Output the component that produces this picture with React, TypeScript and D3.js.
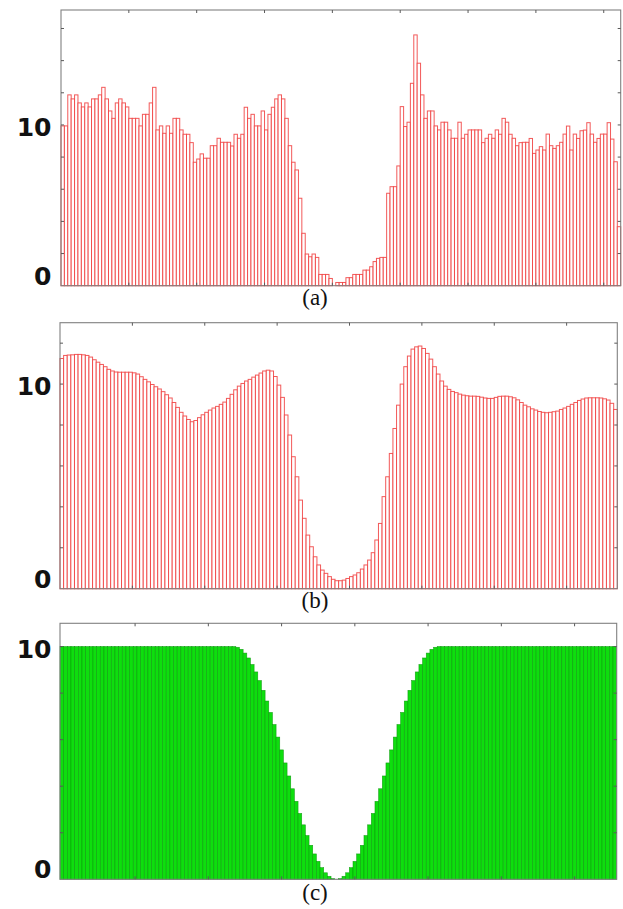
import React from "react";
import * as d3 from "d3";

// ---------- data ----------
const seriesA: number[] = [
  9.94, 9.94, 11.87, 11.62, 11.87, 11.37, 11.12, 11.37, 11.12, 11.62,
  11.62, 11.87, 12.34, 11.62, 10.87, 10.41, 11.37, 11.62, 11.37, 11.12,
  10.41, 10.41, 10.41, 9.94, 10.66, 10.66, 11.37, 12.34, 9.69, 9.94,
  9.48, 9.94, 9.48, 10.41, 10.41, 9.69, 9.42, 9.42, 8.9, 7.68,
  7.88, 8.2, 7.93, 7.93, 8.71, 8.71, 9.17, 8.92, 8.92, 8.92,
  8.69, 9.42, 9.17, 9.42, 11.1, 10.41, 10.66, 9.94, 9.94, 10.87,
  9.69, 10.66, 11.1, 11.62, 11.87, 11.62, 10.41, 8.71, 7.68, 7.2,
  5.44, 3.26,
  1.97, 1.8, 1.97, 1.76, 0.7, 0.7, 0.7, 0.45, 0, 0.2,
  0.2, 0.2, 0.5, 0.5, 0.7, 0.7, 0.7, 0.97, 0.97, 1.18,
  1.5, 1.7, 1.76, 1.76,
  5.75, 6.16, 6.16, 7.45, 11.14, 9.9, 10.17, 12.59, 15.6, 13.84,
  11.87, 10.41, 10.87, 10.87, 9.94, 9.69, 10.17, 10.17, 9.69, 9.17,
  9.17, 10.17, 9.17, 9.42, 9.69, 9.69, 9.69, 9.69, 8.9, 9.17,
  9.42, 9.17, 9.69, 9.42, 10.41, 10.17, 9.42, 9.17, 8.71, 8.9,
  8.92, 8.92, 9.16, 8.23, 8.44, 8.65, 8.44, 9.43, 8.71, 8.54,
  8.71, 8.92, 9.43, 9.93, 8.44, 9.43, 9.16, 9.64, 9.68, 10.14,
  9.43, 8.92, 9.16, 9.43, 9.43, 10.14, 9.12, 7.71, 3.67,
];

const seriesB: number[] = [
  11.25, 11.4, 11.42, 11.43, 11.45, 11.45, 11.43, 11.4, 11.32, 11.19,
  11.07, 10.96, 10.85, 10.72, 10.64, 10.59, 10.58, 10.58, 10.58, 10.58,
  10.55, 10.49, 10.36, 10.23, 10.11, 9.98, 9.87, 9.76, 9.63, 9.48,
  9.32, 9.1, 8.86, 8.62, 8.44, 8.27, 8.16, 8.22, 8.36, 8.5,
  8.62, 8.73, 8.83, 8.91, 9.01, 9.12, 9.3, 9.5, 9.72, 9.9,
  10.03, 10.15, 10.23, 10.34, 10.44, 10.54, 10.64, 10.68, 10.64, 10.37,
  9.95, 9.35, 8.49, 7.51, 6.45, 5.47, 4.33, 3.44, 2.62, 2.05,
  1.56, 1.16, 0.91, 0.75, 0.59, 0.46, 0.39, 0.39, 0.42, 0.5,
  0.59, 0.67, 0.78, 0.96, 1.16, 1.4, 1.76, 2.38, 3.19, 4.5,
  5.47, 6.61, 7.83, 8.97, 10.0, 10.85, 11.37, 11.71, 11.82, 11.86,
  11.74, 11.5, 11.22, 10.85, 10.49, 10.15, 9.9, 9.74, 9.64, 9.58,
  9.51, 9.46, 9.43, 9.41, 9.41, 9.4, 9.36, 9.32, 9.3, 9.3,
  9.35, 9.4, 9.41, 9.41, 9.38, 9.33, 9.23, 9.1, 8.97, 8.89,
  8.79, 8.73, 8.66, 8.62, 8.6, 8.62, 8.65, 8.68, 8.76, 8.83,
  8.91, 9.01, 9.1, 9.2, 9.27, 9.32, 9.33, 9.33, 9.33, 9.32,
  9.28, 9.22, 9.06, 8.76,
];

const seriesC: number[] = [
  10, 10, 10, 10, 10, 10, 10, 10, 10, 10,
  10, 10, 10, 10, 10, 10, 10, 10, 10, 10,
  10, 10, 10, 10, 10, 10, 10, 10, 10, 10,
  10, 10, 10, 10, 10, 10, 10, 10, 10, 10,
  10, 10, 10, 10, 10, 10, 10,
  10, 9.97, 9.88, 9.72, 9.51, 9.23, 8.91, 8.54, 8.12, 7.66,
  7.17, 6.65, 6.11, 5.56, 5.0, 4.44, 3.89, 3.35, 2.83, 2.34,
  1.88, 1.46, 1.09, 0.77, 0.5, 0.28, 0.13, 0.03,
  0,
  0.03, 0.13, 0.28, 0.5, 0.77, 1.09, 1.46, 1.88, 2.34, 2.83,
  3.35, 3.89, 4.44, 5.0, 5.56, 6.11, 6.65, 7.17, 7.66, 8.12,
  8.54, 8.91, 9.23, 9.51, 9.72, 9.88, 9.97, 10,
  10, 10, 10, 10, 10, 10, 10, 10, 10, 10,
  10, 10, 10, 10, 10, 10, 10, 10, 10, 10,
  10, 10, 10, 10, 10, 10, 10, 10, 10, 10,
  10, 10, 10, 10, 10, 10, 10, 10, 10, 10,
  10, 10, 10, 10, 10, 10, 10, 10,
];

const yTickLabels: string[] = ["0", "10"];
const panelCaptions: string[] = ["(a)", "(b)", "(c)"];

// ---------- layout ----------
type PanelSpec = {
  data: number[];
  left: number;
  right: number;
  top: number;
  bottom: number;
  yMax: number;
  xStart: number;
  fill: string;
  stroke: string;
  strokeWidth: number;
  caption: string;
  captionY: number;
};

const panels: PanelSpec[] = [
  {
    data: seriesA, left: 61, right: 620.7, top: 10, bottom: 285.7, yMax: 17.15, xStart: 0,
    fill: "#ffffff", stroke: "#f03c3c", strokeWidth: 1, caption: panelCaptions[0], captionY: 305,
  },
  {
    data: seriesB, left: 60, right: 617.3, top: 322.7, bottom: 588.7, yMax: 13, xStart: 0,
    fill: "#ffffff", stroke: "#f03c3c", strokeWidth: 1, caption: panelCaptions[1], captionY: 608,
  },
  {
    data: seriesC, left: 60, right: 616.7, top: 623.3, bottom: 879.3, yMax: 11, xStart: -0.5,
    fill: "#0ede0e", stroke: "#0a960a", strokeWidth: 0.6, caption: panelCaptions[2], captionY: 900,
  },
];

const FRAME = "#808080";
const TICK = "#5a5a5a";
const TL = 3;

function Panel({ p }: { p: PanelSpec }) {
  const n = p.data.length;
  const x = d3.scaleLinear().domain([p.xStart, p.xStart + n]).range([p.left, p.right]);
  const y = d3.scaleLinear().domain([0, p.yMax]).range([p.bottom, p.top]);
  const bw = x(1) - x(0);
  const xTicks = d3.range(20, p.xStart + n, 20);
  const yTicks = d3.range(2, p.yMax, 2);
  return (
    <g>
      {p.data.map((v, i) => (
        <rect
          key={i}
          x={x(p.xStart + i)}
          y={y(v)}
          width={bw}
          height={Math.max(0, y(0) - y(v))}
          fill={p.fill}
          stroke={p.stroke}
          strokeWidth={p.strokeWidth}
          strokeOpacity={0.85}
        />
      ))}
      <rect x={p.left} y={p.top} width={p.right - p.left} height={p.bottom - p.top} fill="none" stroke={FRAME} strokeWidth={1.1} />
      {xTicks.map((t) => (
        <g key={"x" + t}>
          <line x1={x(t)} x2={x(t)} y1={p.top} y2={p.top + TL} stroke={TICK} strokeWidth={1} />
          <line x1={x(t)} x2={x(t)} y1={p.bottom} y2={p.bottom - TL} stroke={TICK} strokeWidth={1} />
        </g>
      ))}
      {yTicks.map((t) => (
        <g key={"y" + t}>
          <line x1={p.left} x2={p.left + TL} y1={y(t)} y2={y(t)} stroke={TICK} strokeWidth={1} />
          <line x1={p.right} x2={p.right - TL} y1={y(t)} y2={y(t)} stroke={TICK} strokeWidth={1} />
        </g>
      ))}
      <text x={51.5} y={y(0) - 1} textAnchor="end" fontFamily="DejaVu Sans" fontWeight="bold" fontSize={25} fill="#111">
        {yTickLabels[0]}
      </text>
      <text x={51.5} y={y(10) + 11} textAnchor="end" fontFamily="DejaVu Sans" fontWeight="bold" fontSize={25} fill="#111">
        {yTickLabels[1]}
      </text>
      <text x={315} y={p.captionY} textAnchor="middle" fontFamily="'Liberation Serif', 'Times New Roman', serif" fontSize={23} fill="#111">
        {p.caption}
      </text>
    </g>
  );
}

export default function App() {
  return (
    <svg
      width={623}
      height={909}
      viewBox="0 0 623 909"
      style={{ position: "absolute", left: 0, top: 0, background: "#fff" }}
    >
      <rect x={0} y={0} width={623} height={909} fill="#fff" />
      {panels.map((p, k) => (
        <Panel key={k} p={p} />
      ))}
    </svg>
  );
}
